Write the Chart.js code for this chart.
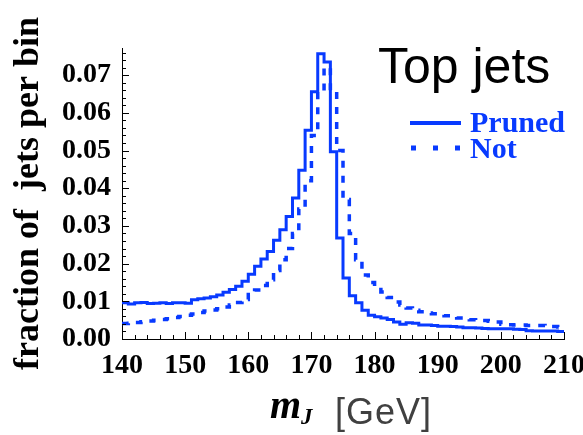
<!DOCTYPE html>
<html>
<head>
<meta charset="utf-8">
<script src="https://cdn.jsdelivr.net/npm/chart.js@4.4.1/dist/chart.umd.min.js"></script>
<style>
  html, body { margin: 0; padding: 0; background: #fff; }
  canvas { display: block; }
</style>
</head>
<body>
<canvas id="massChart" width="583" height="435"></canvas>
<script>
// Bin edges of the jet mass histogram, GeV (1 GeV bins)
const massEdges = [
  140, 141, 142, 143, 144, 145, 146, 147, 148, 149,
  150, 151, 152, 153, 154, 155, 156, 157, 158, 159,
  160, 161, 162, 163, 164, 165, 166, 167, 168, 169,
  170, 171, 172, 173, 174, 175, 176, 177, 178, 179,
  180, 181, 182, 183, 184, 185, 186, 187, 188, 189,
  190, 191, 192, 193, 194, 195, 196, 197, 198, 199,
  200, 201, 202, 203, 204, 205, 206, 207, 208, 209, 210
];

// Fraction of jets per bin, pruned jets (solid)
const prunedFrac = [
  0.0096, 0.0093, 0.0096, 0.0097, 0.0094, 0.0095, 0.0096, 0.0094, 0.0096, 0.0096,
  0.0095, 0.0104, 0.0107, 0.0109, 0.0112, 0.0117, 0.0124, 0.0131, 0.0140, 0.0153,
  0.0172, 0.0193, 0.0212, 0.0232, 0.0262, 0.0290, 0.0325, 0.0374, 0.0448, 0.0554,
  0.0656, 0.0757, 0.0735, 0.0497, 0.0268, 0.0162, 0.0115, 0.0096, 0.0076, 0.0063,
  0.0059, 0.0056, 0.0052, 0.0045, 0.0039, 0.0043, 0.0042, 0.0037, 0.0037, 0.0036,
  0.0034, 0.0034, 0.0033, 0.0032, 0.0030, 0.0030, 0.0029, 0.0028, 0.0027, 0.0027,
  0.0027, 0.0027, 0.0026, 0.0025, 0.0022, 0.0021, 0.0021, 0.0021, 0.0021, 0.0020
];

// Fraction of jets per bin, unpruned jets (dotted)
const notFrac = [
  0.0041, 0.0042, 0.0044, 0.0046, 0.0048, 0.0050, 0.0052, 0.0054, 0.0057, 0.0060,
  0.0063, 0.0066, 0.0070, 0.0074, 0.0077, 0.0080, 0.0085, 0.0090, 0.0097, 0.0105,
  0.0118, 0.0130, 0.0142, 0.0157, 0.0182, 0.0210, 0.0240, 0.0280, 0.0345, 0.0420,
  0.0540, 0.0650, 0.0720, 0.0656, 0.0500, 0.0370, 0.0280, 0.0210, 0.0170, 0.0150,
  0.0138, 0.0125, 0.0110, 0.0098, 0.0090, 0.0082, 0.0076, 0.0072, 0.0069, 0.0067,
  0.0065, 0.0062, 0.0060, 0.0056, 0.0053, 0.0051, 0.0050, 0.0049, 0.0047, 0.0045,
  0.0039, 0.0038, 0.0037, 0.0037, 0.0036, 0.0036, 0.0036, 0.0035, 0.0033, 0.0032
];

const seriesLabels = ['Pruned', 'Not'];
const xTickValues = [140, 150, 160, 170, 180, 190, 200, 210];
const yTickValues = [0, 0.01, 0.02, 0.03, 0.04, 0.05, 0.06, 0.07];
const plotTitle = 'Top jets';

const BLUE = 'rgb(8, 58, 255)';

// histogram -> step points (left edge + closing right edge)
function histPoints(edges, values) {
  const pts = values.map((v, i) => ({ x: edges[i], y: v }));
  pts.push({ x: edges[edges.length - 1], y: values[values.length - 1] });
  return pts;
}

// inward tick marks, like the original frame
const innerTicks = {
  id: 'innerTicks',
  afterDraw(chart) {
    const { ctx, scales: { x, y } } = chart;
    ctx.save();
    ctx.strokeStyle = '#000';
    ctx.lineWidth = 1;
    ctx.beginPath();
    for (let v = x.min; v <= x.max; v += 2) {
      const px = Math.round(x.getPixelForValue(v)) + 0.5;
      const len = (v % 10 === 0) ? 7 : 4;
      ctx.moveTo(px, y.bottom);
      ctx.lineTo(px, y.bottom - len);
    }
    for (let k = 0; k * 0.002 <= y.max; k++) {
      const py = Math.round(y.getPixelForValue(k * 0.002)) + 0.5;
      const len = (k % 5 === 0) ? 7 : 4;
      ctx.moveTo(x.left, py);
      ctx.lineTo(x.left + len, py);
    }
    ctx.stroke();
    ctx.restore();
  }
};

// "Top jets", legend and the m_J [GeV] axis title
const annotations = {
  id: 'annotations',
  afterDraw(chart) {
    const { ctx, chartArea: area } = chart;
    ctx.save();
    ctx.textBaseline = 'alphabetic';

    ctx.fillStyle = '#000';
    ctx.font = '50px "Liberation Sans", Arial, sans-serif';
    ctx.fillText(plotTitle, 378, 83);

    // legend
    const ds = chart.data.datasets;
    ctx.strokeStyle = BLUE;
    ctx.lineWidth = 4;
    ctx.beginPath();
    ctx.moveTo(410, 123);
    ctx.lineTo(461, 123);
    ctx.stroke();
    ctx.setLineDash([5, 17]);
    ctx.lineWidth = 5;
    ctx.beginPath();
    ctx.moveTo(411, 148);
    ctx.lineTo(462, 148);
    ctx.stroke();
    ctx.setLineDash([]);

    ctx.fillStyle = BLUE;
    ctx.font = 'bold 30px "Liberation Serif", "Times New Roman", serif';
    ctx.fillText(ds[0].label, 470, 132);
    ctx.fillText(ds[1].label, 470, 158);

    // x axis title
    const cx = (area.left + area.right) / 2;
    let tx = cx - 73;
    ctx.fillStyle = '#000';
    ctx.font = 'italic bold 40px "Liberation Serif", serif';
    ctx.fillText('m', tx, 418);
    tx += ctx.measureText('m').width;
    ctx.font = 'italic bold 23px "Liberation Serif", serif';
    ctx.fillText('J', tx, 424);
    ctx.fillStyle = '#404040';
    ctx.font = '36px "Liberation Sans", Arial, sans-serif';
    ctx.letterSpacing = '1px';
    ctx.fillText('[GeV]', cx - 8, 424);
    ctx.restore();
  }
};

const ctx = document.getElementById('massChart').getContext('2d');
new Chart(ctx, {
  type: 'line',
  data: {
    datasets: [
      {
        label: seriesLabels[0],
        data: histPoints(massEdges, prunedFrac),
        borderColor: BLUE,
        borderWidth: 3,
        stepped: 'before',
        pointRadius: 0,
        fill: false
      },
      {
        label: seriesLabels[1],
        data: histPoints(massEdges, notFrac),
        borderColor: BLUE,
        borderWidth: 3.5,
        borderDash: [7, 8],
        stepped: 'before',
        pointRadius: 0,
        fill: false
      }
    ]
  },
  plugins: [innerTicks, annotations],
  options: {
    responsive: false,
    animation: false,
    layout: { padding: { top: 48, right: 19, bottom: 0, left: 0 } },
    plugins: {
      legend: { display: false },
      tooltip: { enabled: false }
    },
    scales: {
      x: {
        type: 'linear',
        min: 140,
        max: 210,
        afterBuildTicks: s => { s.ticks = xTickValues.map(v => ({ value: v })); },
        afterFit: s => { s.height = 96; s.paddingLeft = 0; s.paddingRight = 0; },
        grid: { display: false, drawTicks: false },
        border: { display: true, color: '#000', width: 1 },
        ticks: {
          padding: 10,
          color: '#000',
          maxRotation: 0,
          autoSkip: false,
          font: { family: '"Liberation Serif", "Times New Roman", serif', size: 28, weight: 'bold' }
        }
      },
      y: {
        type: 'linear',
        min: 0,
        max: 0.0772,
        afterBuildTicks: s => { s.ticks = yTickValues.map(v => ({ value: v })); },
        afterFit: s => { s.width = 122; s.paddingTop = 0; s.paddingBottom = 0; },
        grid: { display: false, drawTicks: false },
        border: { display: true, color: '#000', width: 1 },
        ticks: {
          padding: 11,
          color: '#000',
          autoSkip: false,
          callback: v => v.toFixed(2),
          font: { family: '"Liberation Serif", "Times New Roman", serif', size: 28, weight: 'bold' }
        },
        title: {
          display: true,
          text: 'fraction of  jets per bin',
          color: '#000',
          padding: { top: 7, bottom: 0 },
          font: { family: '"Liberation Serif", "Times New Roman", serif', size: 36, weight: 'bold' }
        }
      }
    }
  }
});
</script>
</body>
</html>
